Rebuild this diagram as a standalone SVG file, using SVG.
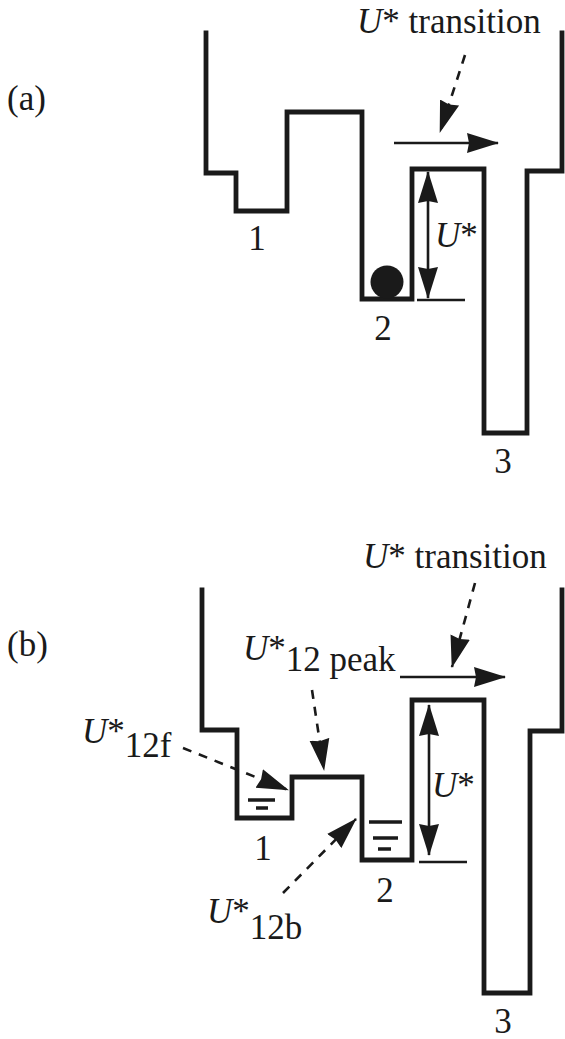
<svg xmlns="http://www.w3.org/2000/svg" width="565" height="1039" viewBox="0 0 565 1039">
<style>
.land{fill:none;stroke:#1a1a1a;stroke-width:4.8;stroke-linejoin:miter;stroke-linecap:square}
.arr{fill:none;stroke:#1a1a1a;stroke-width:2.6}
.dash{fill:none;stroke:#1a1a1a;stroke-width:2.6;stroke-dasharray:9 8}
.lvl{stroke:#1a1a1a;stroke-width:3.5}
.t{font-family:Liberation Serif,Times New Roman,Times,serif;font-size:35px;fill:#1a1a1a}
.it{font-style:italic}
</style>
<defs>
<marker id="ah" markerUnits="userSpaceOnUse" markerWidth="32" markerHeight="22" viewBox="0 0 32 22" refX="31" refY="11" orient="auto-start-reverse">
<path d="M0,1 L32,11 L0,21 L2,11 Z" fill="#1a1a1a"/>
</marker>
</defs>

<g id="panel-a">
<text class="t" x="7" y="110">(a)</text>
<path id="landscape-a" class="land" d="M206,33 V173 H236 V211 H287 V112 H362 V299 H412 V169 H484 V433 H527 V171 H562 V33"/>
<circle id="ball" cx="387" cy="282" r="16.5" fill="#1a1a1a"/>
<g id="label-a-1"><text class="t" x="257" y="250" text-anchor="middle">1</text></g>
<g id="label-a-2"><text class="t" x="383" y="340" text-anchor="middle">2</text></g>
<g id="label-a-3"><text class="t" x="503" y="473" text-anchor="middle">3</text></g>
<g id="label-a-transition"><text class="t" x="357" y="33"><tspan class="it">U</tspan>* transition</text></g>
<g id="label-a-ustar"><text class="t" x="435" y="247"><tspan class="it">U</tspan>*</text></g>
</g>

<g id="panel-b">
<text class="t" x="7" y="656">(b)</text>
<path id="landscape-b" class="land" d="M202,590 V730 H237 V818 H292 V777 H362 V860 H412 V700 H484 V993 H530 V731 H562 V590"/>
<g id="level-1">
<line class="lvl" x1="248" y1="800" x2="275" y2="800"/>
<line class="lvl" x1="256" y1="808" x2="268" y2="808"/>
</g>
<g id="level-2">
<line class="lvl" x1="369" y1="822" x2="402" y2="822"/>
<line class="lvl" x1="373" y1="838" x2="398" y2="838"/>
<line class="lvl" x1="378" y1="849" x2="391" y2="849"/>
</g>
<g id="label-b-1"><text class="t" x="263" y="860" text-anchor="middle">1</text></g>
<g id="label-b-2"><text class="t" x="385" y="902" text-anchor="middle">2</text></g>
<g id="label-b-3"><text class="t" x="503" y="1033" text-anchor="middle">3</text></g>
<g id="label-b-transition"><text class="t" x="363" y="568"><tspan class="it">U</tspan>* transition</text></g>
<g id="label-b-ustar"><text class="t" x="432" y="797"><tspan class="it">U</tspan>*</text></g>
<g id="label-b-peak"><text class="t" x="243" y="660"><tspan class="it">U</tspan>*<tspan dy="11">12 peak</tspan></text></g>
<g id="label-b-12f"><text class="t" x="82" y="743"><tspan class="it">U</tspan>*<tspan dy="14">12f</tspan></text></g>
<g id="label-b-12b"><text class="t" x="207" y="923"><tspan class="it">U</tspan>*<tspan dy="16">12b</tspan></text></g>
</g>

<g id="connectors">
<line class="dash" x1="465" y1="55" x2="440" y2="132" marker-end="url(#ah)"/>
<line class="arr" x1="394" y1="143" x2="498" y2="143" marker-end="url(#ah)"/>
<line class="arr" x1="428" y1="172" x2="428" y2="298" marker-start="url(#ah)" marker-end="url(#ah)"/>
<line class="arr" x1="417" y1="300" x2="465" y2="300"/>

<line class="dash" x1="475" y1="583" x2="452" y2="667" marker-end="url(#ah)"/>
<line class="arr" x1="400" y1="677" x2="505" y2="677" marker-end="url(#ah)"/>
<line class="arr" x1="429" y1="705" x2="429" y2="855" marker-start="url(#ah)" marker-end="url(#ah)"/>
<line class="arr" x1="419" y1="862" x2="467" y2="862"/>
<line class="dash" x1="312" y1="690" x2="324" y2="770" marker-end="url(#ah)"/>
<line class="dash" x1="183" y1="748" x2="288" y2="790" marker-end="url(#ah)"/>
<line class="dash" x1="283" y1="893" x2="356" y2="819" marker-end="url(#ah)"/>
</g>
</svg>
